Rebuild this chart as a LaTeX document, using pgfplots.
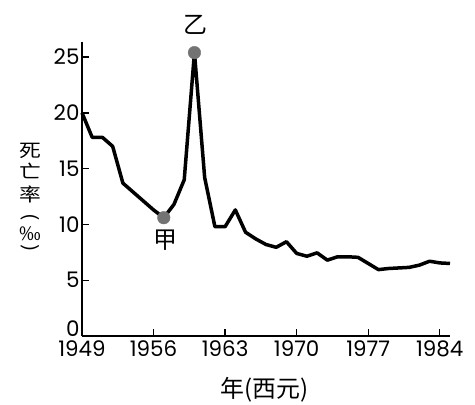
\documentclass[border=0pt]{standalone}
\usepackage{pgfplots}
\pgfplotsset{compat=1.18}
\usepackage{fontspec}
\usepackage{graphicx}
\setmainfont{Liberation Sans}
\newfontfamily\numfont{Poppins}[Numbers=Proportional]
\newfontfamily\cjk{Noto Sans CJK TC}
\newfontfamily\cjkwide{Noto Sans CJK TC}[FakeStretch=1.18]
\definecolor{markgray}{HTML}{737373}
\pgfplotstableread{
year rate
1949 20.0
1950 17.8
1951 17.8
1952 17.0
1953 13.7
1954 12.9
1955 12.1
1956 11.3
1957 10.6
1958 11.8
1959 14.0
1960 25.4
1961 14.2
1962 9.8
1963 9.8
1964 11.3
1965 9.3
1966 8.7
1967 8.2
1968 7.95
1969 8.45
1970 7.4
1971 7.15
1972 7.45
1973 6.8
1974 7.1
1975 7.1
1976 7.05
1977 6.5
1978 5.95
1979 6.05
1980 6.1
1981 6.15
1982 6.35
1983 6.7
1984 6.55
1985 6.5
}\deathrate
\begin{document}
\begin{tikzpicture}
\path[use as bounding box] (0,0) rectangle (475bp,405bp);
\begin{axis}[
  at={(82bp,69bp)}, anchor=south west,
  scale only axis, width=368bp, height=294bp,
  xmin=1949, xmax=1985, ymin=0, ymax=26.35,
  axis lines=left,
  axis line style={-, line width=1.6bp},
  xtick={1949,1956,1963,1970,1977,1984},
  ytick={5,10,15,20,25},
  extra y ticks={0},
  extra y tick style={yticklabel style={yshift=7bp}},
  tick align=inside,
  major tick length=7bp,
  tick style={line width=1.4bp, black},
  /pgf/number format/assume math mode=true,
  /pgf/number format/1000 sep={},
  xticklabel style={font=\numfont\fontsize{21.5}{21.5}\selectfont, yshift=-1.5bp},
  yticklabel style={font=\numfont\fontsize{21.5}{21.5}\selectfont, xshift=1bp},
  clip=false,
]
\addplot[black, line width=3.5bp, line join=round, no markers] table[x=year, y=rate] {\deathrate};
\addplot[only marks, mark=*, mark size=6.3bp, color=markgray] coordinates {(1957,10.6) (1960,25.4)};
\node[font=\cjk\fontsize{24}{24}\selectfont] at (axis cs:1957.2,8.6) {甲};
\node[font=\cjk\fontsize{24}{24}\selectfont] at (axis cs:1960.05,27.9) {乙};
\begin{scope}[every node/.style={font=\cjkwide\fontsize{18.5}{18.5}\selectfont, inner sep=0pt}]
\node at (rel axis cs:-0.14,0.629) {死};
\node at (rel axis cs:-0.14,0.561) {亡};
\node at (rel axis cs:-0.14,0.480) {率};
\node at (rel axis cs:-0.14,0.400) {\rotatebox[origin=c]{-90}{(}};
\node at (rel axis cs:-0.14,0.347) {‰};
\node at (rel axis cs:-0.14,0.296) {\rotatebox[origin=c]{-90}{)}};
\end{scope}
\node[font=\cjk\fontsize{24}{24}\selectfont] at (rel axis cs:0.497,-0.183) {年(西元)};
\end{axis}
\end{tikzpicture}
\end{document}
